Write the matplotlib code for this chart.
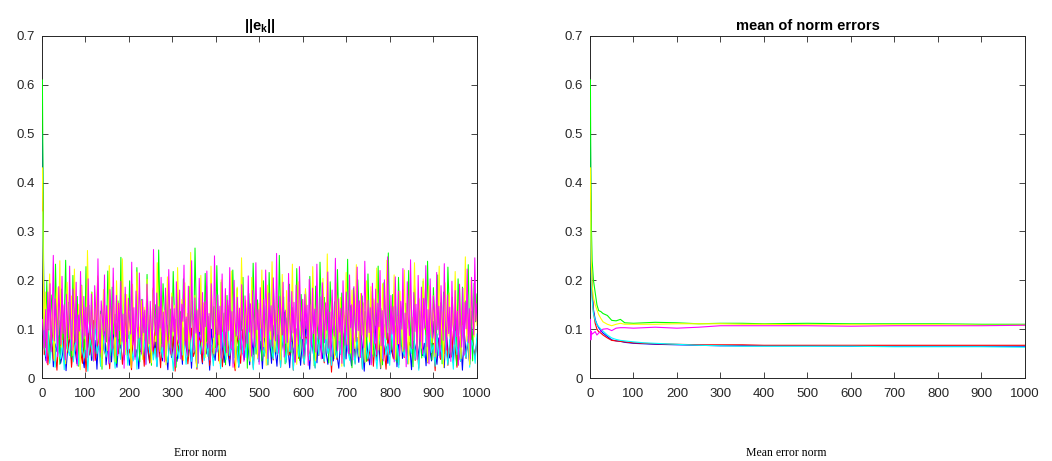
import numpy as np
import matplotlib
matplotlib.use("Agg")
import matplotlib.pyplot as plt

plt.rcParams["font.family"] = ["Liberation Sans", "DejaVu Sans"]
plt.rcParams["mathtext.fontset"] = "custom"
plt.rcParams["mathtext.rm"] = "Liberation Sans"
plt.rcParams["mathtext.bf"] = "Liberation Sans:bold"

# ---- left panel: ||e_k|| per run (values in thousandths, spread over k = 1..1000) ----
err_blue = [
    500, 62, 35, 88, 41, 105, 23, 70, 54, 118, 30, 47, 92, 15, 66, 81, 38, 124, 57, 29,
    74, 99, 44, 21, 86, 63, 112, 36, 50, 77, 18, 95, 59, 40, 131, 27, 68, 84, 33, 102,
    48, 22, 79, 61, 115, 37, 90, 52, 26, 71, 107, 43, 58, 19, 83, 66, 39, 126, 55, 31,
    93, 46, 74, 24, 109, 60, 35, 87, 51, 17, 98, 42, 69, 120, 34, 57, 81, 28, 103, 63,
    45, 76, 20, 91, 54, 38, 113, 67, 29, 85, 49, 72, 16, 100, 58, 36, 82, 47, 127, 61,
    32, 94, 53, 25, 78, 110, 41, 65, 22, 89, 56, 37, 104, 70, 27, 83, 48, 117, 62, 34,
    75, 19, 96, 52, 43, 80, 30, 108, 59, 24, 87, 46, 71, 135, 38, 64, 21, 92, 55, 33,
    101, 68, 26, 79, 44, 116, 57, 18, 84, 50, 73, 31, 97, 62, 40, 123, 53, 28, 86, 66,
    35, 106, 47, 20, 77, 60, 92, 39, 114, 56, 25, 81, 45, 70, 32, 99, 63, 14, 88, 51,
    27, 84, 58, 111, 36, 73, 19, 95, 49, 64, 30, 102, 55, 42, 87, 23, 76, 121, 40, 61,
    89, 33, 67, 17, 97, 52, 79, 38, 108, 46, 71, 25, 93, 60, 35, 116, 54, 28, 82, 44,
    65, 21, 99, 57, 41, 85, 31, 112, 63, 37, 78, 16, 94, 50, 72, 29, 104, 59, 43, 80,
]
err_red = [
    415, 48, 93, 27, 71, 110, 39, 58, 16, 84, 66, 121, 33, 75, 52, 97, 22, 63, 88, 41,
    106, 55, 30, 79, 13, 92, 47, 68, 118, 36, 60, 85, 25, 101, 57, 43, 76, 19, 95, 64,
    34, 112, 50, 81, 28, 70, 128, 45, 59, 17, 89, 62, 38, 104, 54, 74, 24, 97, 66, 31,
    83, 49, 115, 40, 72, 21, 93, 58, 35, 108, 61, 46, 87, 14, 78, 53, 124, 37, 69, 90,
    29, 65, 102, 44, 56, 18, 85, 73, 32, 111, 51, 96, 26, 67, 42, 80, 120, 35, 60, 23,
    91, 57, 76, 39, 105, 48, 15, 86, 64, 30, 99, 52, 71, 127, 41, 63, 20, 88, 55, 34,
    109, 68, 45, 82, 27, 94, 59, 37, 117, 50, 74, 22, 85, 61, 33, 103, 47, 79, 16, 92,
    65, 40, 113, 54, 28, 84, 70, 36, 98, 58, 21, 81, 46, 122, 63, 31, 90, 53, 75, 12,
    87, 60, 38, 106, 49, 72, 25, 95, 57, 43, 119, 66, 30, 83, 51, 77, 19, 100, 62, 35,
    54, 97, 24, 70, 44, 114, 33, 80, 61, 18, 92, 48, 75, 39, 107, 56, 27, 86, 65, 42,
    101, 29, 73, 52, 125, 36, 67, 20, 94, 58, 45, 82, 31, 110, 49, 71, 15, 89, 63, 38,
    77, 50, 104, 26, 68, 43, 96, 59, 22, 85, 34, 116, 55, 40, 79, 28, 99, 62, 47, 73,
]
err_green = [
    610, 145, 62, 198, 88, 37, 170, 121, 54, 233, 95, 140, 28, 182, 76, 112, 241, 60, 155, 99,
    43, 210, 132, 71, 167, 24, 118, 190, 83, 50, 228, 107, 149, 66, 176, 35, 125, 92, 205, 58,
    137, 18, 163, 101, 74, 219, 115, 46, 186, 90, 130, 30, 158, 69, 247, 103, 52, 172, 124, 81,
    199, 41, 143, 96, 64, 226, 110, 33, 161, 87, 135, 57, 212, 78, 119, 26, 180, 98, 150, 48,
    262, 106, 70, 193, 128, 39, 168, 85, 141, 60, 218, 112, 22, 175, 94, 136, 53, 203, 79, 120,
    44, 187, 102, 157, 67, 266, 116, 31, 164, 89, 138, 55, 214, 75, 126, 38, 178, 100, 146, 62,
    230, 108, 47, 196, 84, 133, 27, 169, 93, 152, 58, 221, 114, 72, 183, 40, 129, 97, 206, 65,
    142, 20, 173, 104, 77, 235, 118, 49, 160, 91, 131, 35, 199, 82, 148, 61, 216, 109, 43, 185,
    95, 139, 56, 251, 117, 68, 166, 29, 123, 87, 192, 52, 144, 101, 74, 224, 111, 36, 171, 106,
    63, 179, 122, 42, 208, 97, 151, 25, 188, 113, 70, 237, 134, 55, 165, 86, 140, 31, 197, 119,
    80, 156, 47, 222, 105, 67, 174, 39, 127, 94, 243, 61, 148, 21, 184, 116, 73, 201, 130, 52,
    168, 90, 136, 34, 213, 103, 58, 177, 45, 159, 99, 229, 69, 142, 27, 195, 121, 78, 256, 110,
    57, 171, 93, 147, 32, 206, 114, 65, 181, 50, 153, 102, 220, 63, 139, 23, 190, 125, 84, 162,
    108, 41, 198, 131, 76, 239, 96, 146, 37, 185, 117, 60, 211, 88, 154, 29, 176, 104, 68, 227,
    133, 48, 165, 92, 143, 26, 203, 112, 71, 186, 54, 158, 100, 232, 66, 137, 35, 194, 115, 172,
]
err_cyan = [
    340, 71, 44, 96, 30, 62, 85, 22, 108, 53, 39, 77, 17, 90, 58, 46, 119, 33, 68, 81,
    27, 99, 55, 41, 74, 14, 87, 63, 36, 112, 50, 70, 24, 93, 60, 43, 79, 31, 104, 56,
    20, 84, 67, 38, 116, 48, 73, 26, 95, 59, 35, 82, 18, 101, 64, 45, 76, 29, 110, 52,
    88, 37, 61, 23, 97, 69, 42, 125, 51, 32, 80, 57, 15, 92, 66, 40, 107, 47, 75, 28,
    63, 86, 34, 118, 55, 21, 78, 49, 98, 36, 71, 44, 103, 60, 25, 89, 53, 67, 19, 94,
    58, 38, 114, 46, 74, 30, 83, 62, 24, 100, 51, 79, 42, 121, 35, 65, 17, 90, 56, 33,
    105, 70, 45, 85, 27, 96, 59, 39, 111, 48, 76, 22, 87, 61, 31, 102, 54, 73, 16, 93,
    67, 43, 115, 52, 29, 81, 64, 37, 99, 57, 20, 84, 47, 126, 62, 34, 91, 50, 72, 26,
    88, 58, 41, 106, 49, 69, 23, 95, 55, 36, 117, 63, 28, 82, 45, 78, 18, 97, 60, 39,
    74, 31, 92, 53, 19, 86, 65, 40, 109, 47, 70, 26, 98, 57, 35, 80, 21, 113, 61, 44,
    83, 29, 66, 50, 120, 38, 75, 16, 94, 59, 42, 87, 33, 104, 52, 68, 24, 91, 46, 71,
    37, 100, 56, 27, 79, 62, 18, 96, 48, 73, 34, 108, 54, 41, 85, 22, 77, 64, 30, 90,
]
err_yellow = [
    430, 98, 176, 52, 134, 213, 71, 160, 35, 119, 185, 88, 240, 63, 147, 105, 29, 196, 127, 80,
    168, 46, 223, 112, 74, 151, 17, 189, 93, 138, 58, 261, 122, 84, 175, 40, 156, 101, 209, 67,
    130, 25, 181, 96, 143, 56, 230, 115, 78, 164, 33, 199, 108, 152, 69, 244, 124, 48, 171, 89,
    136, 21, 192, 103, 60, 217, 117, 83, 158, 38, 145, 97, 202, 65, 128, 31, 184, 110, 75, 236,
    121, 54, 166, 92, 139, 27, 207, 104, 62, 174, 86, 149, 44, 226, 113, 70, 161, 36, 195, 100,
    132, 59, 257, 118, 81, 169, 23, 141, 95, 210, 66, 154, 42, 188, 107, 77, 229, 125, 50, 163,
    91, 137, 30, 201, 111, 73, 177, 45, 148, 99, 219, 61, 133, 19, 186, 105, 82, 246, 120, 57,
    159, 94, 140, 34, 206, 109, 68, 172, 41, 153, 102, 221, 64, 129, 26, 190, 114, 79, 238, 123,
    53, 167, 90, 144, 37, 212, 106, 71, 179, 47, 155, 98, 233, 63, 135, 28, 197, 116, 85, 160,
    72, 183, 109, 46, 150, 87, 228, 119, 35, 170, 95, 142, 58, 204, 126, 80, 254, 101, 66, 157,
    113, 39, 194, 131, 76, 165, 24, 146, 104, 216, 69, 138, 51, 180, 97, 60, 232, 117, 43, 173,
    88, 154, 32, 199, 122, 74, 187, 49, 162, 108, 225, 57, 134, 20, 193, 111, 83, 241, 128, 65,
    147, 96, 211, 38, 126, 70, 178, 103, 55, 221, 92, 158, 29, 185, 118, 77, 236, 107, 48, 164,
    127, 61, 203, 99, 143, 33, 189, 115, 72, 168, 44, 151, 106, 229, 68, 135, 22, 195, 124, 86,
    174, 53, 140, 91, 218, 110, 64, 182, 40, 157, 100, 248, 75, 131, 27, 200, 119, 84, 163, 108,
]
err_magenta = [
    120, 85, 62, 140, 31, 176, 98, 193, 54, 127, 251, 76, 162, 109, 44, 187, 133, 69, 208, 91,
    150, 37, 171, 118, 82, 229, 104, 56, 182, 141, 73, 196, 25, 129, 96, 218, 115, 63, 167, 86,
    145, 42, 203, 121, 79, 172, 99, 35, 189, 137, 66, 244, 108, 52, 158, 126, 88, 211, 72, 148,
    103, 29, 181, 134, 61, 225, 117, 84, 169, 46, 153, 97, 198, 75, 131, 20, 186, 110, 58, 163,
    122, 90, 237, 68, 144, 38, 178, 106, 81, 215, 124, 49, 161, 93, 139, 27, 192, 113, 70, 157,
    100, 55, 263, 119, 87, 174, 43, 146, 102, 206, 64, 135, 33, 184, 111, 77, 222, 128, 50, 166,
    95, 142, 24, 197, 107, 71, 180, 39, 151, 116, 231, 67, 125, 46, 188, 101, 80, 240, 123, 57,
    164, 92, 138, 30, 204, 112, 74, 175, 48, 156, 105, 219, 62, 132, 36, 193, 118, 83, 250, 121,
    54, 170, 89, 147, 41, 213, 109, 66, 183, 52, 159, 97, 226, 60, 136, 22, 200, 114, 86, 165,
    78, 143, 59, 191, 104, 34, 168, 127, 71, 209, 94, 152, 45, 179, 115, 63, 236, 99, 140, 28,
    185, 111, 57, 160, 83, 221, 130, 40, 174, 96, 148, 65, 205, 119, 76, 255, 102, 51, 167, 134,
    88, 196, 43, 139, 107, 73, 214, 125, 58, 177, 92, 155, 32, 190, 116, 69, 228, 137, 80, 161,
    47, 171, 101, 149, 26, 202, 118, 64, 184, 91, 141, 53, 233, 112, 79, 166, 39, 195, 128, 72,
    154, 98, 217, 61, 135, 44, 180, 106, 86, 245, 120, 56, 162, 94, 143, 30, 199, 113, 67, 176,
    129, 50, 211, 103, 150, 37, 187, 122, 75, 227, 97, 158, 42, 173, 110, 62, 239, 131, 84, 159,
    93, 144, 27, 194, 117, 70, 182, 48, 153, 105, 220, 66, 138, 35, 201, 124, 81, 248, 108, 55,
    169, 90, 146, 33, 207, 115, 68, 178, 45, 157, 100, 224, 59, 133, 23, 197, 121, 87, 242, 126,
    60, 175, 95, 151, 38, 210, 112, 74, 186, 49, 163, 102, 230, 64, 140, 29, 203, 118, 82, 168,
    131, 52, 216, 99, 147, 41, 189, 123, 77, 234, 108, 57, 170, 91, 145, 34, 198, 114, 69, 179,
    85, 137, 26, 192, 110, 63, 184, 47, 155, 101, 223, 72, 142, 39, 206, 127, 88, 246, 116, 152,
]

# ---- right panel: running mean of the norm errors (thousandths) ----
mean_iters = [1, 2, 3, 5, 8, 12, 16, 20, 25, 30, 40, 50, 60, 70, 80, 100, 125, 150,
              200, 250, 300, 350, 400, 500, 600, 700, 800, 900, 1000]
mean_blue = [500, 330, 250, 180, 140, 120, 110, 103, 97, 92, 85, 78, 76, 75, 73, 71, 70, 69,
             68, 67, 66, 66, 66, 66, 65, 65, 65, 65, 65]
mean_red = [415, 300, 230, 170, 135, 112, 100, 95, 92, 88, 82, 77, 76, 75, 74, 72, 71, 70,
            69, 68, 68, 68, 67, 67, 67, 67, 67, 67, 67]
mean_green = [610, 420, 320, 240, 200, 175, 150, 138, 136, 132, 128, 118, 117, 120, 113, 112, 113, 114,
              113, 111, 112, 112, 111, 112, 111, 111, 111, 110, 110]
mean_cyan = [340, 260, 210, 160, 132, 118, 110, 105, 100, 96, 88, 82, 79, 77, 76, 74, 72, 71,
             69, 67, 66, 65, 65, 65, 65, 64, 64, 64, 63]
mean_yellow = [430, 300, 240, 190, 165, 150, 140, 130, 122, 115, 110, 107, 110, 112, 110, 110, 110, 110,
               111, 111, 111, 110, 110, 109, 109, 109, 109, 108, 108]
mean_magenta = [120, 78, 95, 90, 92, 95, 88, 92, 96, 100, 101, 97, 102, 103, 103, 102, 103, 104,
                102, 104, 107, 107, 107, 107, 106, 107, 107, 107, 108]

colors = ["#0000FF", "#FF0000", "#00FF00", "#00FFFF", "#FFFF00", "#FF00FF"]
err_runs = [err_blue, err_red, err_green, err_cyan, err_yellow, err_magenta]
mean_runs = [mean_blue, mean_red, mean_green, mean_cyan, mean_yellow, mean_magenta]

fig = plt.figure(figsize=(10.52, 4.61), dpi=100)
ax1 = fig.add_axes([0.0399, 0.180, 0.4135, 0.742])
ax2 = fig.add_axes([0.5608, 0.180, 0.4135, 0.742])

# lines above the spines, like MATLAB draws them
for vals, c in zip(err_runs, colors):
    k = np.linspace(1, 1000, len(vals))
    ax1.plot(k, np.array(vals) / 1000.0, color=c, lw=0.75, zorder=3)

for vals, c in zip(mean_runs, colors):
    ax2.plot(mean_iters, np.array(vals) / 1000.0, color=c, lw=0.8, zorder=3)

for ax in (ax1, ax2):
    ax.set_xlim(0, 1000)
    ax.set_ylim(0, 0.7)
    ax.set_xticks(np.arange(0, 1001, 100))
    ax.set_yticks(np.arange(0, 0.71, 0.1))
    ax.set_yticklabels(["0", "0.1", "0.2", "0.3", "0.4", "0.5", "0.6", "0.7"])
    ax.tick_params(direction="in", length=4, width=0.6, colors="#262626",
                   labelsize=9.5, top=True, right=True)
    ax.tick_params(axis="x", pad=7)
    ax.tick_params(axis="y", pad=5)
    for s in ax.spines.values():
        s.set_color("#262626")
        s.set_linewidth(0.7)

ax1.set_title(r"$\mathbf{||e_k||}$", fontsize=10.5, pad=4)
ax2.set_title("mean of norm errors", fontsize=10.5, fontweight="bold", pad=4)

fig.text(200 / 1052, 1 - 453 / 461, "Error norm", family="Liberation Serif",
         fontsize=8.5, ha="center", va="center")
fig.text(786 / 1052, 1 - 453 / 461, "Mean error norm", family="Liberation Serif",
         fontsize=8.5, ha="center", va="center")

fig.savefig("out.png", dpi=100)
